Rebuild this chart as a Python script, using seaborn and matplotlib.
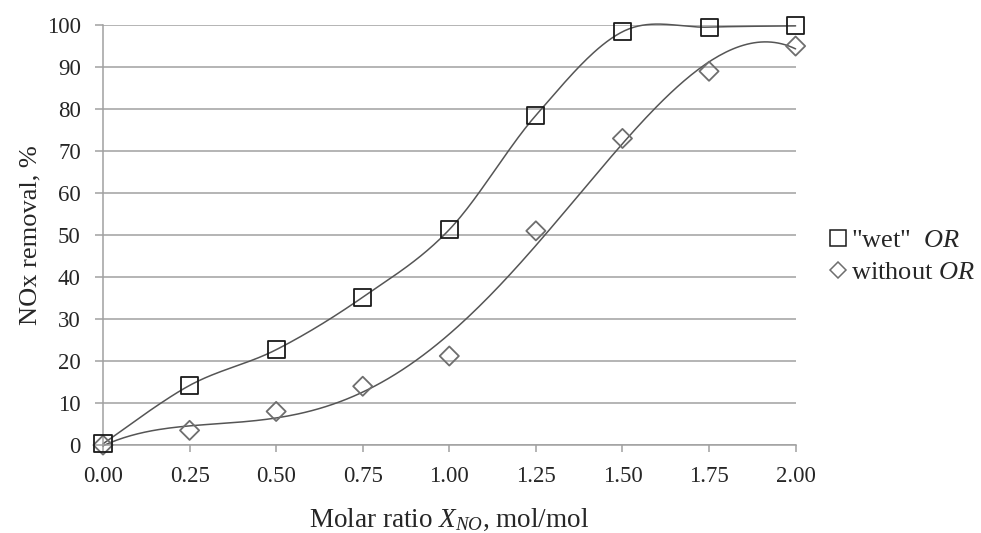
import numpy as np
import pandas as pd
import matplotlib
matplotlib.use('Agg')
import matplotlib.pyplot as plt
from matplotlib.lines import Line2D
import seaborn as sns

ratio = [0.00, 0.25, 0.50, 0.75, 1.00, 1.25, 1.50, 1.75, 2.00]
wet_or = [0.3, 14.2, 22.7, 35.2, 51.3, 78.5, 98.4, 99.5, 99.8]
without_or = [0.0, 3.5, 8.0, 14.0, 21.2, 51.0, 73.0, 89.0, 95.0]
x_ticks = [0.00, 0.25, 0.50, 0.75, 1.00, 1.25, 1.50, 1.75, 2.00]
y_ticks = list(range(0, 101, 10))

sns.set_style('white')
plt.rcParams['font.family'] = ['Liberation Serif', 'DejaVu Serif']
plt.rcParams['mathtext.fontset'] = 'custom'
plt.rcParams['mathtext.rm'] = 'Liberation Serif'
plt.rcParams['mathtext.it'] = 'Liberation Serif:italic'

df = pd.DataFrame({'ratio': ratio, 'wet': wet_or, 'without': without_or})


def smooth_line(x, y, n=40):
    # spreadsheet-style smoothed line (bezier through every point)
    p = np.column_stack([x, y]).astype(float)
    p = np.vstack([p[0], p, p[-1]])
    out = []
    t = np.linspace(0, 1, n)[:, None]
    for i in range(1, len(p) - 2):
        b0, b3 = p[i], p[i + 1]
        b1 = b0 + (p[i + 1] - p[i - 1]) / 6
        b2 = b3 - (p[i + 2] - p[i]) / 6
        seg = ((1 - t) ** 3) * b0 + 3 * ((1 - t) ** 2) * t * b1 + 3 * (1 - t) * t ** 2 * b2 + t ** 3 * b3
        out.append(seg if i == 1 else seg[1:])
    out = np.vstack(out)
    return out[:, 0], out[:, 1]


wx, wy = smooth_line(df['ratio'], df['wet'])
wet_curve = pd.DataFrame({'ratio': wx, 'value': wy})
xs = np.linspace(0, 2, 200)
# polynomial trend line for the second series
without_curve = pd.DataFrame({'ratio': xs,
                              'value': np.polyval(np.polyfit(df['ratio'], df['without'], 4), xs)})

fig = plt.figure(figsize=(9.81, 5.33), dpi=100)
ax = fig.add_axes([0.105, 0.165, 0.706, 0.788])

for curve in [wet_curve, without_curve]:
    sns.lineplot(data=curve, x='ratio', y='value', ax=ax, color='#555555', linewidth=1.1,
                 estimator=None, sort=False, clip_on=False)

sns.scatterplot(data=df, x='ratio', y='wet', ax=ax, marker='s', s=150,
                facecolor='none', edgecolor='#1a1a1a', linewidth=1.3, zorder=4, clip_on=False)
sns.scatterplot(data=df, x='ratio', y='without', ax=ax, marker='D', s=95,
                facecolor='none', edgecolor='#6e6e6e', linewidth=1.3, zorder=3, clip_on=False)

ax.set_xlim(0, 2)
ax.set_ylim(0, 100)
ax.set_xticks(x_ticks)
ax.set_xticklabels([f'{t:.2f}' for t in x_ticks])
ax.set_yticks(y_ticks)
ax.yaxis.grid(True, color='#a0a0a0', linewidth=1.1)
ax.set_axisbelow(True)
for s in ['top', 'right']:
    ax.spines[s].set_visible(False)
for s in ['left', 'bottom']:
    ax.spines[s].set_color('#a0a0a0')
    ax.spines[s].set_linewidth(1.1)
ax.tick_params(axis='x', direction='out', length=5, width=1.1, color='#a0a0a0',
               labelsize=16.5, pad=10, bottom=True)
ax.tick_params(axis='y', direction='out', length=6, width=1.1, color='#a0a0a0',
               labelsize=16.5, pad=10, left=True)

ax.set_xlabel(r'Molar ratio $\mathit{X_{NO}}$, mol/mol', fontsize=19.5, labelpad=14)
ax.set_ylabel('NOx removal, %', fontsize=19, labelpad=4)

handles = [
    Line2D([], [], linestyle='none', marker='s', markersize=11,
           markerfacecolor='none', markeredgecolor='#1a1a1a', markeredgewidth=1.1),
    Line2D([], [], linestyle='none', marker='D', markersize=8,
           markerfacecolor='none', markeredgecolor='#6e6e6e', markeredgewidth=1.1),
]
fig.legend(handles, [r'"wet"  $\mathit{OR}$', r'without $\mathit{OR}$'],
           loc='center left', bbox_to_anchor=(0.846, 0.519), frameon=False,
           fontsize=19, handlelength=0.6, handletextpad=0.2, labelspacing=0.35,
           borderaxespad=0, borderpad=0)

fig.savefig('out.png', dpi=100)
